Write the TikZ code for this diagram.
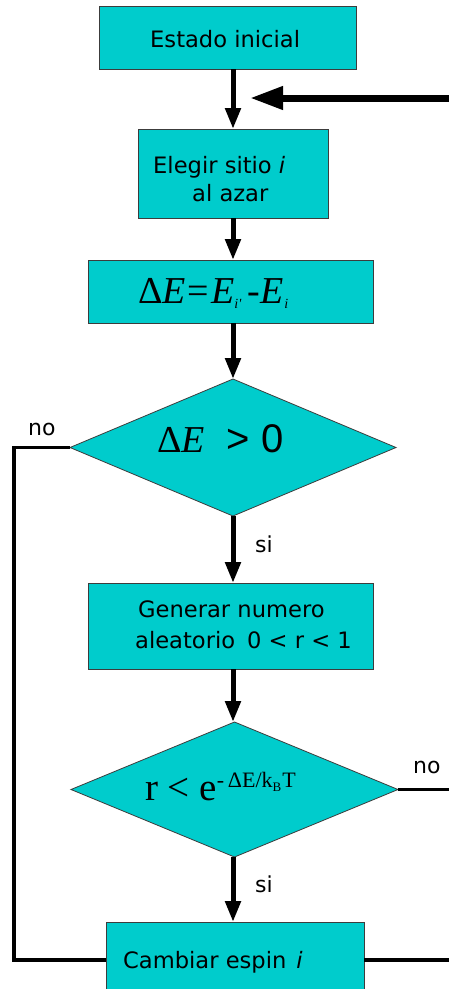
\documentclass[tikz,border=0pt]{standalone}
\usepackage{fontspec}
\setmainfont{DejaVu Sans}
\newfontfamily\tms{Liberation Serif}
\newfontfamily\lsans{Liberation Sans}
\usetikzlibrary{arrows.meta,shapes.geometric}
\definecolor{boxcyan}{RGB}{0,204,204}
\definecolor{edgegray}{RGB}{60,60,60}
\begin{document}
\begin{tikzpicture}[x=1pt,y=-1pt,
  box/.style={draw=edgegray,line width=1pt,fill=boxcyan,rectangle,inner sep=0pt,outer sep=0pt},
  dec/.style={draw=edgegray,line width=0.8pt,fill=boxcyan,diamond,inner sep=0pt,outer sep=0pt},
  txt/.style={anchor=base west,inner sep=0pt,font=\fontsize{22.6}{26}\selectfont},
  lbl/.style={anchor=base west,inner sep=0pt,font=\fontsize{22}{26}\selectfont},
  flow/.style={draw=black,line width=5pt,-{Triangle[length=21pt,width=15pt]}},
  bigflow/.style={draw=black,line width=7pt,-{Triangle[length=33pt,width=22pt]}},
  conn/.style={draw=black,line width=3.3pt}]
\useasboundingbox (0,0) rectangle (449,989);
\clip (0,0) rectangle (449,989);
\fill[white] (0,0) rectangle (449,989);

% shapes
\node[box,minimum width=257pt,minimum height=63pt] (b1) at (227.5,37.5) {};
\node[box,minimum width=190pt,minimum height=89pt] (b2) at (233,173.5) {};
\node[box,minimum width=285pt,minimum height=63pt] (b3) at (230.5,291.5) {};
\node[dec,minimum width=326pt,minimum height=137pt] (d1) at (233,447.5) {};
\node[box,minimum width=285pt,minimum height=86pt] (b4) at (230.5,626) {};
\node[dec,minimum width=327pt,minimum height=135pt] (d2) at (234.5,789.5) {};
\node[box,minimum width=258pt,minimum height=76pt] (b5) at (235,960) {};

% coordinates
\coordinate (ax) at (233,0);
\coordinate (ll) at (14,0);
\coordinate (rr) at (449,0);
\coordinate (inStart) at (449,98);
\coordinate (inTip) at (250,98);

% connectors
\draw[flow] (b1.south -| ax) -- (b2.north -| ax);
\draw[flow] (b2.south -| ax) -- (b3.north -| ax);
\draw[flow] (b3.south -| ax) -- (d1.north -| ax);
\draw[flow] (d1.south -| ax) -- (b4.north -| ax);
\draw[flow] (b4.south -| ax) -- (d2.north -| ax);
\draw[flow] (d2.south -| ax) -- (b5.north -| ax);
\draw[bigflow] (inStart) -- (inTip);
\draw[conn] (d1.west) -| (ll |- b5.west) -- (b5.west);
\draw[conn] (d2.east) -- (d2.east -| rr);
\draw[conn] (b5.east) -- (b5.east -| rr);

% texts
\node[txt] (t1) at (150,47) {Estado inicial};
\node[txt] (t2a) at (153,173) {Elegir sitio \textit{i}};
\node[txt] (t2b) at (192,201) {al azar};
\node[anchor=base west,inner sep=0pt] (t3) at (138,303)
  {\fontsize{38}{40}\tms Δ\textit{E}\hspace{2pt}=\hspace{2pt}\textit{E}\raisebox{-5pt}{\fontsize{14}{14}\selectfont\textit{i'}}\hspace{6pt}-\textit{E}\raisebox{-5pt}{\fontsize{14}{14}\selectfont\hspace{1pt}\textit{i}}};
\node[anchor=base west,inner sep=0pt] (t4) at (157,452)
  {{\fontsize{38}{40}\tms Δ\textit{E}}\hspace{22pt}{\fontsize{40}{42}\lsans > 0}};
\node[txt] (t5a) at (138,617) {Generar numero};
\node[txt] (t5b) at (135,648) {aleatorio\hspace{12pt}0 < r < 1};
\node[anchor=base west,inner sep=0pt] (t6) at (145,800)
  {\fontsize{39}{40}\tms r < e\raisebox{13pt}{\fontsize{22}{22}\selectfont -\,ΔE/k\raisebox{-4pt}{\fontsize{13}{13}\selectfont B}\hspace{1pt}T}};
\node[txt] (t7) at (123,968) {Cambiar espin\hspace{10pt}\textit{i}};

% labels
\node[lbl] (no1) at (28,435) {no};
\node[lbl] (si1) at (255,552) {si};
\node[lbl] (no2) at (413,773) {no};
\node[lbl] (si2) at (255,892) {si};
\end{tikzpicture}
\end{document}
